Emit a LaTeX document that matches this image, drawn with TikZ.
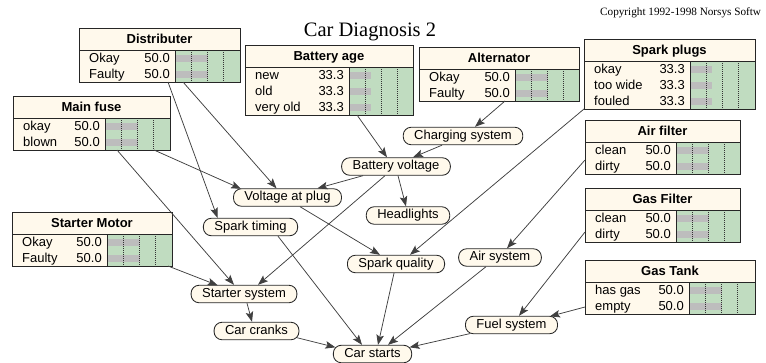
\documentclass[tikz,border=0pt]{standalone}
\usepackage{fontspec}
\setmainfont{Liberation Sans}
\newfontfamily\serifft{Liberation Serif}
\usetikzlibrary{arrows.meta,calc}
\definecolor{cream}{HTML}{FFF9EC}
\definecolor{bargreen}{HTML}{C0DCC0}
\definecolor{bargray}{HTML}{BDBDBD}
\tikzset{
  boxline/.style={draw=black!85, line width=0.8pt},
  rowtxt/.style={inner sep=0pt, font=\fontsize{13}{14}\selectfont},
  titletxt/.style={inner sep=0pt, font=\fontsize{13}{14}\selectfont\bfseries},
  oval/.style={draw=black!85, line width=0.85pt, fill=cream, rounded corners=8pt,
    minimum height=17.5pt, inner xsep=11pt, inner ysep=0pt,
    text height=9.5pt, text depth=2.7pt, font=\fontsize{13}{14}\selectfont},
  link/.style={draw=black!75, line width=0.75pt, -{Stealth[length=10pt,width=7.5pt,inset=2pt]}},
  tick/.style={draw=black!80, line width=0.6pt, dash pattern=on 1pt off 1pt}
}
% name, x, y, width, divider offset, title, rows count, rows
\newcommand\netbox[8]{%
  \pgfmathsetmacro\nbH{22+16*#7}%
  \node[fill=cream, inner sep=0pt, outer sep=0pt, minimum width=#4pt, minimum height=\nbH pt, anchor=north west] (#1) at (#2,#3) {};
  \fill[bargreen] (#2+#5,#3+22) rectangle (#2+#4,#3+\nbH);
  \foreach \s/\v/\p [count=\i] in {#8}{%
    \pgfmathsetmacro\yc{#3+22+16*\i-8}%
    \fill[bargray] (#2+#5+1,\yc-3.5) rectangle (#2+#5+1+0.64*\p,\yc+3.5);
    \node[rowtxt, anchor=base west] at (#2+10,\yc+4.7) {\s};
    \node[rowtxt, anchor=base east] at (#2+#5-5,\yc+4.7) {\v};
  }
  \foreach \q in {16,32,48} \draw[tick] (#2+#5+\q,#3+22) -- (#2+#5+\q,#3+\nbH);
  \draw[boxline] (#2,#3+22) -- (#2+#4,#3+22);
  \draw[boxline] (#2+#5,#3+22) -- (#2+#5,#3+\nbH);
  \draw[boxline] (#1.north west) rectangle (#1.south east);
  \node[titletxt, anchor=base] at (#2+#4/2,#3+11+4.7) {#6};
}
\begin{document}
\begin{tikzpicture}[x=1pt,y=-1pt]
\useasboundingbox (0,0) rectangle (766,362);
\fill[white] (0,0) rectangle (766,362);

\node[font=\serifft\fontsize{20.5}{22}\selectfont, inner sep=0pt, anchor=base] (title) at (370,36) {Car Diagnosis 2};
\node[font=\serifft\fontsize{11.2}{12}\selectfont, inner sep=0pt, anchor=base west] (copyright) at (600,15) {Copyright 1992-1998 Norsys Softw};

\netbox{dist}{79}{28}{161}{96}{Distributer}{2}{Okay/50.0/50, Faulty/50.0/50}
\netbox{mfuse}{13}{96}{157}{92}{Main fuse}{2}{okay/50.0/50, blown/50.0/50}
\netbox{bage}{245}{45}{168}{104}{Battery age}{3}{new/33.3/33.3, old/33.3/33.3, very old/33.3/33.3}
\netbox{alt}{419}{47}{160}{96}{Alternator}{2}{Okay/50.0/50, Faulty/50.0/50}
\netbox{splugs}{584}{39}{171}{106}{Spark plugs}{3}{okay/33.3/33.3, too wide/33.3/33.3, fouled/33.3/33.3}
\netbox{afilter}{585}{120}{155}{91}{Air filter}{2}{clean/50.0/50, dirty/50.0/50}
\netbox{gfilter}{585}{188}{155}{91}{Gas Filter}{2}{clean/50.0/50, dirty/50.0/50}
\netbox{gtank}{585}{260}{170}{104}{Gas Tank}{2}{has gas/50.0/50, empty/50.0/50}
\netbox{smotor}{12}{212}{160}{95}{Starter Motor}{2}{Okay/50.0/50, Faulty/50.0/50}

\node[oval] (charging) at (463,136) {Charging system};
\node[oval] (bvolt) at (396,166.5) {Battery voltage};
\node[oval] (vplug) at (287.5,197.5) {Voltage at plug};
\node[oval] (headl) at (408,215.5) {Headlights};
\node[oval] (stiming) at (250.5,227) {Spark timing};
\node[oval] (squal) at (396,264) {Spark quality};
\node[oval] (airsys) at (500,257.5) {Air system};
\node[oval] (starter) at (244,294) {Starter system};
\node[oval] (cranks) at (256.5,331) {Car cranks};
\node[oval] (cstarts) at (372.5,354) {Car starts};
\node[oval] (fuel) at (511.5,325) {Fuel system};

\draw[link] ($(dist.south west)+(89,0)$) -- ($(stiming.north)+(-33,0)$);
\draw[link] ($(dist.south west)+(104,0)$) -- ($(vplug.north)+(-11,0)$);
\draw[link] ($(mfuse.south west)+(141,0)$) -- ($(vplug.north west)+(8,0.5)$);
\draw[link] ($(mfuse.south west)+(104,0)$) -- ($(starter.north)+(-10,0)$);
\draw[link] ($(smotor.south east)+(-4,0)$) -- ($(starter.north west)+(27,0.5)$);
\draw[link] ($(bage.south west)+(112,0)$) -- ($(bvolt.north)+(-9,0)$);
\draw[link] ($(alt.south west)+(86,0)$) -- ($(charging.north)+(12,0)$);
\draw[link] ($(charging.south)+(-21,0)$) -- ($(bvolt.north)+(17,0)$);
\draw[link] ($(bvolt.south)+(-33,0)$) -- ($(vplug.north)+(30,0)$);
\draw[link] ($(bvolt.south)+(2,0)$) -- ($(headl.north)+(-2,0)$);
\draw[link] ($(bvolt.south)+(-11,0)$) -- ($(starter.north)+(14,0)$);
\draw[link] ($(vplug.south)+(12.5,0)$) -- ($(squal.north)+(-16,0)$);
\draw[link] (splugs.south west) -- ($(squal.north)+(14,0)$);
\draw[link] ($(afilter.south west)+(0,-14)$) -- ($(airsys.north)+(7,0)$);
\draw[link] ($(gfilter.south west)+(0,-10)$) -- ($(fuel.north)+(7.5,0)$);
\draw[link] ($(gtank.south west)+(0,-7)$) -- ($(fuel.north east)+(-8,0.5)$);
\draw[link] ($(stiming.south)+(27.5,0)$) -- ($(cstarts.north)+(-10.5,0)$);
\draw[link] ($(squal.south)+(-2,0)$) -- ($(cstarts.north)+(5.5,0)$);
\draw[link] ($(airsys.south)+(-14,0)$) -- ($(cstarts.north)+(15.5,0)$);
\draw[link] ($(fuel.south west)+(5,-0.6)$) -- ($(cstarts.north east)+(-2.5,2.5)$);
\draw[link] ($(cranks.south east)+(-2.5,-2.5)$) -- ($(cstarts.north west)+(2.5,2.5)$);
\draw[link] ($(starter.south)+(3,0)$) -- ($(cranks.north)+(-4.5,0)$);
\end{tikzpicture}
\end{document}
